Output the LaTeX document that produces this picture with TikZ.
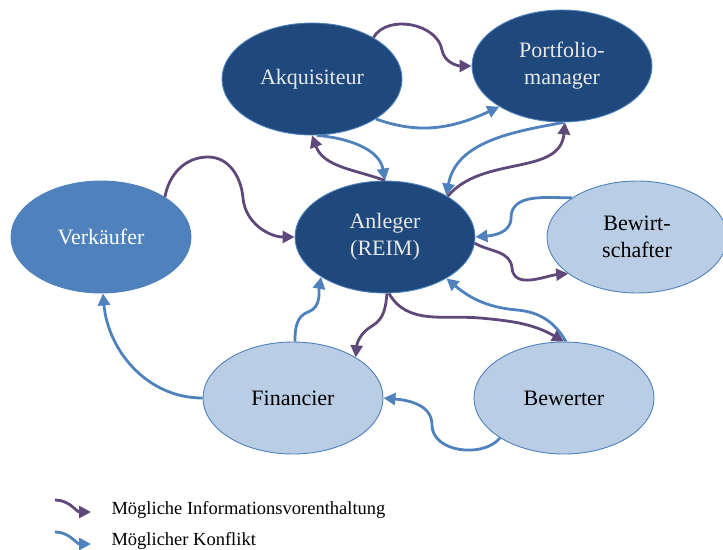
\documentclass[tikz,border=0pt]{standalone}
\usepackage{fontspec}
\setmainfont{Liberation Serif}
\usetikzlibrary{shapes.geometric,arrows.meta}
\definecolor{navy}{HTML}{1F497D}
\definecolor{midblue}{HTML}{4F81BD}
\definecolor{paleblue}{HTML}{B9CDE5}
\definecolor{infopurple}{HTML}{5F497A}
\definecolor{textgray}{HTML}{E8E8E8}

\begin{document}
\begin{tikzpicture}[x=1pt,y=1pt,
  actor/.style={ellipse,minimum width=180pt,minimum height=112pt,inner sep=0pt,draw=midblue,line width=0.9pt,align=center,font=\fontsize{22}{27}\selectfont},
  darkactor/.style={actor,fill=navy,text=textgray},
  selleractor/.style={actor,fill=midblue,text=white},
  paleactor/.style={actor,fill=paleblue,text=black},
  info/.style={draw=infopurple,line width=2.8pt,-{Triangle[length=12pt,width=12pt]}},
  conflict/.style={draw=midblue,line width=2.8pt,-{Triangle[length=12pt,width=12pt]}},
  legendtext/.style={font=\fontsize{18.5}{22}\selectfont,anchor=base west}]
\useasboundingbox (0,0) rectangle (723,-549);

\node[darkactor] (akq) at (312,-79) {Akquisiteur};
\node[darkactor] (port) at (562,-66) {Portfolio-\\manager};
\node[darkactor] (anl) at (385,-237) {Anleger\\(REIM)};
\node[selleractor] (verk) at (101,-237) {Verkäufer};
\node[paleactor] (bew) at (637,-237) {Bewirt-\\schafter};
\node[paleactor] (fin) at (293,-398) {Financier};
\node[paleactor] (bwt) at (564,-398) {Bewerter};

% Informationsvorenthaltung
\draw[info] (akq.34) to[out=60,in=100] (442,-50) to[out=-80,in=180] (port.west);
\draw[info] (anl.north) to[out=160,in=-70] (akq.south);
\draw[info] (anl.33) to[out=50,in=-95] (port.-87);
\draw[info] (verk.32) to[out=80,in=180] (208,-157) to[out=0,in=95] (243,-198) to[out=-85,in=180] (anl.west);
\draw[info] (anl.-4) to[out=-30,in=95] (512,-268) to[out=-85,in=185] (bew.208);
\draw[info] (anl.-88) to[out=-95,in=30] (372,-326) to[out=-150,in=85] (fin.33);
\draw[info] (anl.-86) to[out=-60,in=175] (480,-318) to[out=-5,in=150] (bwt.north);

% Konflikte
\draw[conflict] (akq.-32) to[out=-20,in=205] (port.213);
\draw[conflict] (akq.-85) to[out=-5,in=100] (anl.north);
\draw[conflict] (port.-88) to[out=190,in=80] (anl.34);
\draw[conflict] (bew.149) to[out=180,in=90] (511,-218) to[out=-90,in=5] (anl.east);
\draw[conflict] (bwt.88) to[out=120,in=-5] (517,-310) to[out=175,in=-40] (anl.-34);
\draw[conflict] (fin.88) to[out=90,in=200] (308,-312) to[out=20,in=-100] (anl.212);
\draw[conflict] (fin.west) to[out=180,in=-85] (verk.-88);
\draw[conflict] (bwt.212) to[out=-130,in=-90] (432,-425) to[out=90,in=-5] (fin.east);

% Legende
\coordinate (infostart) at (55,-500);
\coordinate (infoend) at (91,-512);
\coordinate (conflictstart) at (55,-532);
\coordinate (conflictend) at (91,-544);
\draw[info] (infostart) to[out=0,in=180] (infoend);
\draw[conflict] (conflictstart) to[out=0,in=180] (conflictend);
\node[legendtext] (infolabel) at (108,-514) {Mögliche Informationsvorenthaltung};
\node[legendtext] (conflictlabel) at (108,-545) {Möglicher Konflikt};
\end{tikzpicture}
\end{document}
